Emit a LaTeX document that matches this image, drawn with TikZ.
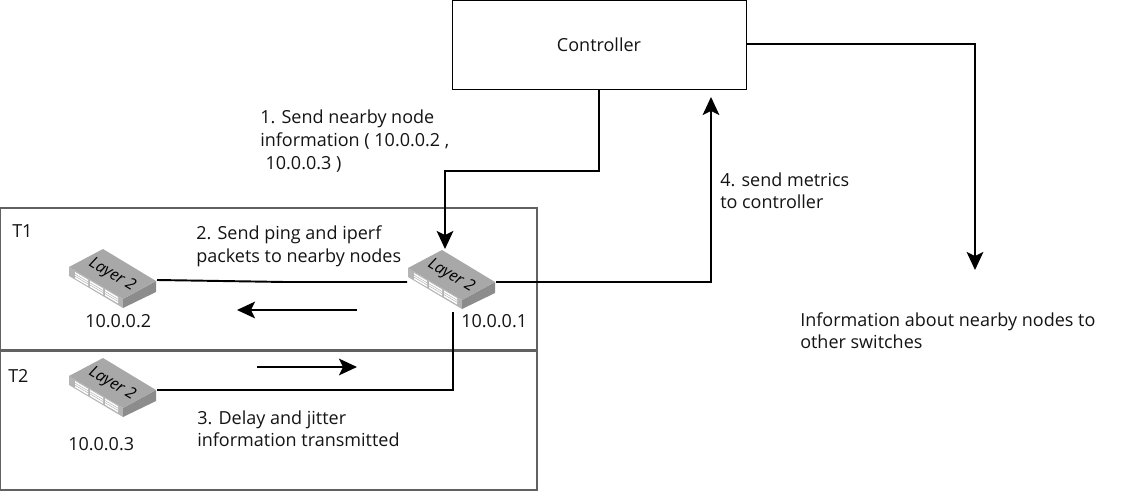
\documentclass[tikz,border=0pt]{standalone}
\usepackage{fontspec}
\setmainfont{Open Sans}
\usetikzlibrary{arrows.meta,calc}
\definecolor{swtop}{HTML}{A8A8A8}
\definecolor{swfront}{HTML}{B4B4B4}
\definecolor{swright}{HTML}{8C8C8C}
\tikzset{
  x=0.75pt,y=-0.75pt,
  wire/.style={line width=1.45pt,black},
  tipped/.style={wire,-{Stealth[length=13.5pt,width=12.5pt,inset=3pt]}},
  frame/.style={draw=black!62,line width=1.1pt,fill=none},
  label/.style={anchor=north west,inner sep=0pt,align=left,font=\fontsize{13.5}{16.9}\selectfont,text=black!92},
  swbox/.style={minimum width=66.75pt,minimum height=44.25pt,inner sep=0pt,outer sep=0pt}
}
\newcommand{\switchpic}[3]{%
  \node[swbox,anchor=north west] (#3) at (#1,#2) {};
  \begin{scope}[shift={(#1,#2)}]
    \fill[swfront] (1,18) -- (55,50) -- (55,59) -- (1,27) -- cycle;
    \fill[swright] (55,50) -- (88,32) -- (88,43) -- (55,59) -- cycle;
    \fill[swtop] (35,0) -- (88,32) -- (55,50) -- (1,18) -- cycle;
    \foreach \i in {0,1,2}{
      \fill[white] ({7+\i*15},{23+\i*8.7}) -- ({20+\i*15},{30.7+\i*8.7}) -- ({20+\i*15},{37+\i*8.7}) -- ({7+\i*15},{29.3+\i*8.7}) -- cycle;
      \draw[black!30,line width=0.35pt] ({7+\i*15},{25.1+\i*8.7}) -- ({20+\i*15},{32.8+\i*8.7});
      \draw[black!30,line width=0.35pt] ({7+\i*15},{27.2+\i*8.7}) -- ({20+\i*15},{34.9+\i*8.7});
    }
    \node[rotate=-31,inner sep=0pt,font=\itshape\fontsize{12}{12}\selectfont,text=black] at (44,26) {Layer 2};
  \end{scope}
}
\begin{document}
\begin{tikzpicture}
\useasboundingbox (0,0) rectangle (1140,492);
\fill[white] (0,0) rectangle (1140,492);

\node[draw=black,line width=0.75pt,minimum width=220.5pt,minimum height=66.5pt,inner sep=0pt,font=\fontsize{13.5}{16}\selectfont,text=black!92] (ctrl) at (599,44.8) {\raisebox{-1.5pt}{Controller}};

\draw[frame] (0,208) rectangle (537,350);
\draw[frame] (0,351) rectangle (537,490);

\switchpic{68}{249}{s2}
\switchpic{407}{250}{s1}
\switchpic{68}{358}{s3}

\coordinate (up) at (711,97);
\coordinate (out) at (975,270);
\coordinate (s1in) at (445,249);
\coordinate (backa) at (357,310);
\coordinate (backb) at (237,310);
\coordinate (foreA) at (257,367);
\coordinate (foreB) at (357,367);

\draw[tipped] (ctrl.south) -- (599,171) -- (445,171) -- (s1in);
\draw[wire] (s2.east |- 0,280) -- (285,282) -- (s1.west |- 0,282);
\draw[tipped] (s1.east |- 0,282) -- (711,282) -- (up);
\draw[tipped] (ctrl.east |- 0,44) -- (975,44) -- (out);
\draw[wire] (s3.east |- 0,390) -- (453,390) -- (453,312);
\draw[tipped] (backa) -- (backb);
\draw[tipped] (foreA) -- (foreB);

\node[label] (n1) at (260,110) {1. Send nearby node\\information ( 10.0.0.2 ,\\ \hspace*{4pt}10.0.0.3 )};
\node[label] (n2) at (196,225.5) {2. Send ping and iperf\\packets to nearby nodes};
\node[label] (n3) at (197,410.5) {3. Delay and jitter\\information transmitted};
\node[label] (n4) at (720,172.5) {4. send metrics\\to controller};
\node[label] (n5) at (800,312) {Information about nearby nodes to\\other switches};
\node[label] (t1) at (12,224) {T1};
\node[label] (t2) at (8,369) {T2};
\node[label] (a2) at (85,314) {10.0.0.2};
\node[label] (a1) at (461,314) {10.0.0.1};
\node[label] (a3) at (68,437) {10.0.0.3};
\end{tikzpicture}
\end{document}
